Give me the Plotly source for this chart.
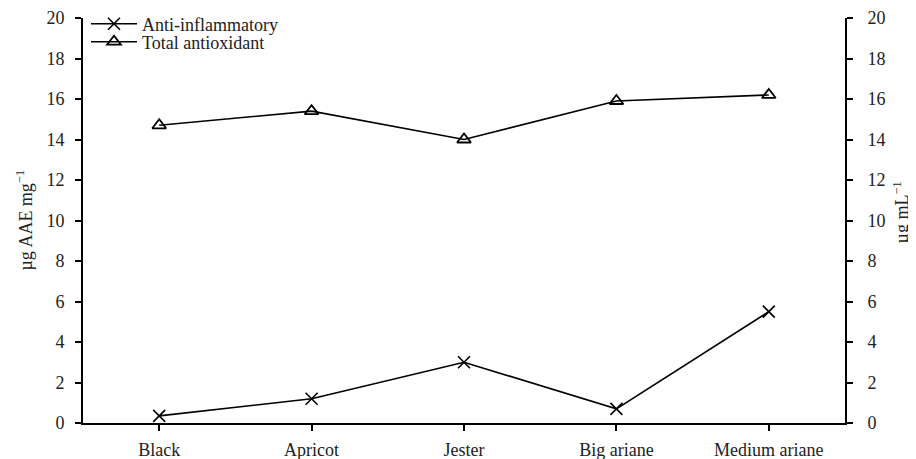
import plotly.graph_objects as go

categories = ["Black", "Apricot", "Jester", "Big ariane", "Medium ariane"]
anti_inflammatory = [0.35, 1.2, 3.0, 0.7, 5.5]
total_antioxidant = [14.7, 15.4, 14.0, 15.9, 16.2]
y_ticks = [0, 2, 4, 6, 8, 10, 12, 14, 16, 18, 20]

FONT = "Liberation Serif, Times New Roman, serif"
TXT = "#222"
x_idx = list(range(len(categories)))

# page body adds an 8px offset; figure is sized to the visible area
W, H = 908, 451
ML, MR, MT, MB = 75, 71, 10, 36

fig = go.Figure()
fig.add_trace(go.Scatter(
    x=x_idx, y=anti_inflammatory, name="Anti-inflammatory", yaxis="y2",
    mode="lines+markers", legend="legend",
    line=dict(color="black", width=1.6),
    marker=dict(symbol="x-thin-open", size=12, line=dict(color="black", width=1.6), color="black"),
))
fig.add_trace(go.Scatter(
    x=x_idx, y=total_antioxidant, name="Total antioxidant",
    mode="lines+markers", legend="legend2",
    line=dict(color="black", width=1.6),
    marker=dict(symbol="triangle-up-open", size=12, line=dict(color="black", width=1.8), color="black"),
))

axis_common = dict(
    range=[0, 20], tickvals=y_ticks, ticks="outside", ticklen=6, tickwidth=2,
    tickcolor="black", showline=True, linecolor="black", linewidth=2,
    showgrid=False, zeroline=False, automargin=False,
    tickfont=dict(family=FONT, size=18, color=TXT),
)

leg_common = dict(xref="container", yref="container", xanchor="left", yanchor="middle",
                  bgcolor="rgba(0,0,0,0)", borderwidth=0, itemwidth=46,
                  font=dict(family=FONT, size=18, color=TXT))

fig.update_layout(
    width=W, height=H,
    margin=dict(l=ML, r=MR, t=MT, b=MB, autoexpand=False),
    plot_bgcolor="white", paper_bgcolor="white",
    font=dict(family=FONT, size=18, color=TXT),
    showlegend=True,
    legend=dict(x=78 / W, y=1 - 16 / H, **leg_common),
    legend2=dict(x=78 / W, y=1 - 34 / H, **leg_common),
    xaxis=dict(
        range=[-0.5, 4.5], tickvals=x_idx, ticktext=categories, ticks="outside",
        ticklen=6, tickwidth=2, tickcolor="black", showline=True, linecolor="black",
        linewidth=2, showgrid=False, zeroline=False, automargin=False, ticklabelstandoff=3,
        tickfont=dict(family=FONT, size=18, color=TXT),
    ),
    yaxis=dict(ticklabelstandoff=7, **axis_common),
    yaxis2=dict(ticklabelstandoff=11, overlaying="y", side="right", **axis_common),
    annotations=[
        dict(text="µg AAE mg<sup>−1</sup>", xref="paper", yref="paper", x=0, y=0.5,
             xshift=-58, textangle=-90, showarrow=False, xanchor="center", yanchor="middle",
             font=dict(family=FONT, size=18, color=TXT)),
        dict(text="µg mL<sup>−1</sup>", xref="paper", yref="paper", x=1, y=0.52,
             xshift=56, textangle=-90, showarrow=False, xanchor="center", yanchor="middle",
             font=dict(family=FONT, size=18, color=TXT)),
    ],
)

fig.write_html("out.html")
